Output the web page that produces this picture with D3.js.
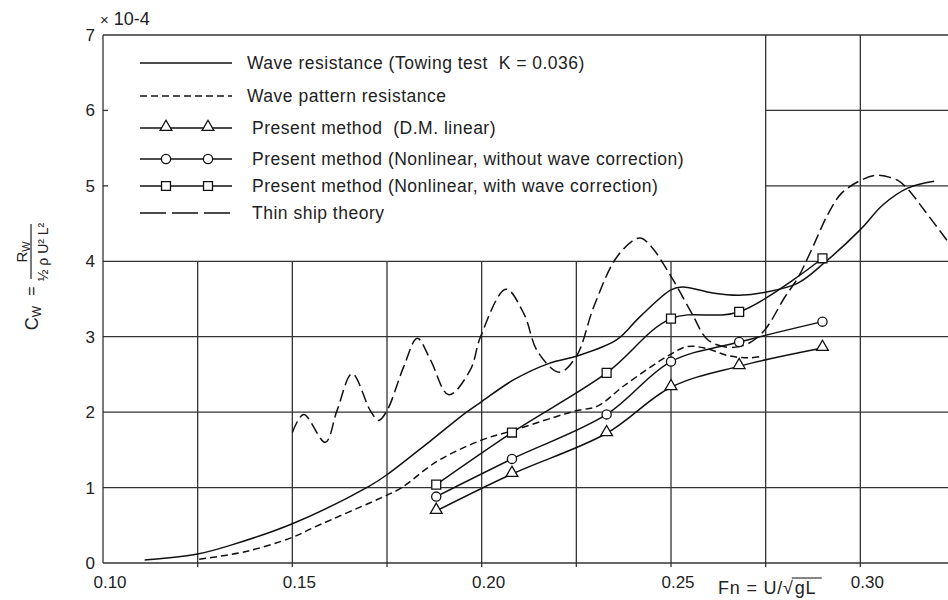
<!DOCTYPE html>
<html>
<head>
<meta charset="utf-8">
<script src="https://cdn.jsdelivr.net/npm/d3@7"></script>
<style>
  body { margin: 0; background: #fff; }
  svg { display: block; font-family: "Liberation Sans", Arial, sans-serif; }
  text { white-space: pre; }
</style>
</head>
<body>
<svg id="chart" width="948" height="600"></svg>
<script>
// Data (Fn, Cw x 10^-4)
const fnTow = [0.111, 0.125, 0.134, 0.150, 0.170, 0.175, 0.1865, 0.196, 0.200, 0.2085, 0.218, 0.225, 0.2357, 0.2417, 0.250, 0.253, 0.261, 0.268, 0.275, 0.2835, 0.2905, 0.300, 0.306, 0.3125, 0.3195];
const cwTow = [0.04, 0.12, 0.24, 0.52, 1.01, 1.17, 1.62, 2.00, 2.14, 2.43, 2.65, 2.74, 2.96, 3.26, 3.62, 3.66, 3.58, 3.55, 3.59, 3.71, 3.98, 4.42, 4.75, 4.97, 5.06];

const fnWp = [0.1254, 0.1375, 0.150, 0.1556, 0.175, 0.1786, 0.1883, 0.200, 0.2085, 0.219, 0.225, 0.2306, 0.2376, 0.250, 0.2544, 0.2597, 0.265, 0.2703, 0.274];
const cwWp = [0.05, 0.15, 0.34, 0.47, 0.90, 0.99, 1.35, 1.63, 1.76, 1.93, 2.02, 2.08, 2.35, 2.77, 2.87, 2.84, 2.75, 2.72, 2.74];

const fnTs = [0.150, 0.153, 0.1587, 0.1618, 0.1658, 0.1706, 0.1728, 0.175, 0.1794, 0.183, 0.1865, 0.1913, 0.197, 0.1997, 0.2064, 0.2112, 0.2147, 0.2205, 0.225, 0.2297, 0.2359, 0.2417, 0.2447, 0.250, 0.2555, 0.2597, 0.265, 0.270, 0.2746, 0.280, 0.2835, 0.287, 0.2915, 0.295, 0.300, 0.3045, 0.310, 0.3125, 0.317, 0.323];
const cwTs = [1.73, 1.97, 1.60, 2.02, 2.51, 2.02, 1.89, 2.02, 2.60, 2.98, 2.69, 2.23, 2.56, 3.00, 3.63, 3.30, 2.81, 2.53, 2.74, 3.41, 4.07, 4.31, 4.20, 3.80, 3.31, 2.96, 2.86, 2.90, 3.08, 3.52, 3.78, 4.14, 4.63, 4.90, 5.07, 5.14, 5.07, 4.96, 4.67, 4.27];

const fnPm = [0.188, 0.208, 0.233, 0.250, 0.268, 0.290];
const cwLinear = [0.69, 1.18, 1.72, 2.33, 2.61, 2.85];
const cwNoCorr = [0.88, 1.38, 1.97, 2.67, 2.93, 3.20];
const cwCorr = [1.04, 1.73, 2.52, 3.24, 3.33, 4.04];

const xTicks = [0.10, 0.15, 0.20, 0.25, 0.30];
const yTicks = [0, 1, 2, 3, 4, 5, 6, 7];
const xGridLow = [0.125, 0.15, 0.175, 0.20, 0.225, 0.25];
const xGridTall = [0.275, 0.30];
const yGridFull = [1, 2, 3, 4];
const yGridRight = [5, 6];

const legendLabels = [
  "Wave resistance (Towing test  K = 0.036)",
  "Wave pattern resistance",
  "Present method  (D.M. linear)",
  "Present method (Nonlinear, without wave correction)",
  "Present method (Nonlinear, with wave correction)",
  "Thin ship theory"
];

// scales
const x = d3.scaleLinear().domain([0.10, 0.325]).range([103, 955]);
const y = d3.scaleLinear().domain([0, 7]).range([563, 35]);

const svg = d3.select("#chart");
const ink = "#222";

// grid
const grid = svg.append("g").attr("stroke", "#333").attr("stroke-width", 1.3);
grid.selectAll(".vl").data(xGridLow).enter().append("line")
  .attr("x1", d => x(d)).attr("x2", d => x(d))
  .attr("y1", y(0) + 4).attr("y2", y(4));
grid.selectAll(".vt").data(xGridTall).enter().append("line")
  .attr("x1", d => x(d)).attr("x2", d => x(d))
  .attr("y1", y(0) + 4).attr("y2", y(7));
grid.selectAll(".hf").data(yGridFull).enter().append("line")
  .attr("x1", x(0.10)).attr("x2", 948)
  .attr("y1", d => y(d)).attr("y2", d => y(d));
grid.selectAll(".hr").data(yGridRight).enter().append("line")
  .attr("x1", x(0.275)).attr("x2", 948)
  .attr("y1", d => y(d)).attr("y2", d => y(d));
// short inner ticks on left axis in the legend area
grid.selectAll(".tk").data(yGridRight).enter().append("line")
  .attr("x1", x(0.10)).attr("x2", x(0.10) + 5)
  .attr("y1", d => y(d)).attr("y2", d => y(d));
// frame
grid.append("line").attr("x1", x(0.10)).attr("x2", x(0.10)).attr("y1", y(0)).attr("y2", y(7));
grid.append("line").attr("x1", x(0.10)).attr("x2", 948).attr("y1", y(0)).attr("y2", y(0));
grid.append("line").attr("x1", x(0.10)).attr("x2", 948).attr("y1", y(7)).attr("y2", y(7));

// tick labels
svg.append("g").selectAll("text").data(xTicks).enter().append("text")
  .attr("x", d => x(d) + 7).attr("y", 588)
  .attr("text-anchor", "middle").attr("font-size", 17).attr("fill", ink)
  .text(d => d.toFixed(2));
svg.append("g").selectAll("text").data(yTicks).enter().append("text")
  .attr("x", 95).attr("y", d => y(d) + 6)
  .attr("text-anchor", "end").attr("font-size", 17).attr("fill", ink)
  .text(d => d);

// exponent label
const ex = svg.append("text").attr("x", 100).attr("y", 25).attr("font-size", 18).attr("fill", ink);
ex.append("tspan").attr("font-size", 15).text("×");
ex.append("tspan").text(" 10-4");

// x axis title
const fnT = svg.append("text").attr("x", 718).attr("y", 594).attr("font-size", 18)
  .attr("letter-spacing", 0.8).attr("fill", ink).text("Fn = U/√");
const fnW = fnT.node().getComputedTextLength();
svg.append("text").attr("x", 718 + fnW + 1).attr("y", 594).attr("font-size", 18)
  .attr("letter-spacing", 0.8).attr("fill", ink).text("gL");
svg.append("line").attr("x1", 718 + fnW - 2).attr("x2", 718 + fnW + 28)
  .attr("y1", 578).attr("y2", 578).attr("stroke", ink).attr("stroke-width", 1.1);

// y axis title (rotated)
function rotText(px, py, size) {
  return svg.append("text").attr("transform", `translate(${px},${py}) rotate(-90)`)
    .attr("text-anchor", "middle").attr("font-size", size).attr("fill", ink);
}
const cw = rotText(38, 318, 18);
cw.append("tspan").text("C");
cw.append("tspan").attr("font-size", 12).attr("dy", 3).text("W");
rotText(37, 291, 16).text("=");
svg.append("line").attr("x1", 31).attr("x2", 31).attr("y1", 224).attr("y2", 279)
  .attr("stroke", ink).attr("stroke-width", 1.2);
const rw = rotText(27, 252, 15);
rw.append("tspan").text("R");
rw.append("tspan").attr("font-size", 11).attr("dy", 3).text("W");
rotText(48, 252, 14).text("½ ρ U² L²");

// curves
const line = d3.line().x(d => x(d[0])).y(d => y(d[1])).curve(d3.curveCatmullRom.alpha(0.5));
const zip = (a, b) => a.map((v, i) => [v, b[i]]);

const curves = svg.append("g").attr("fill", "none").attr("stroke", "#111").attr("stroke-width", 1.5);
curves.append("path").attr("d", line(zip(fnTow, cwTow)));
curves.append("path").attr("d", line(zip(fnWp, cwWp))).attr("stroke-dasharray", "7,4");
curves.append("path").attr("d", line(zip(fnTs, cwTs))).attr("stroke-dasharray", "12,5");
curves.append("path").attr("d", line(zip(fnPm, cwLinear)));
curves.append("path").attr("d", line(zip(fnPm, cwNoCorr)));
curves.append("path").attr("d", line(zip(fnPm, cwCorr)));

// markers
const tri = d3.symbol().type(d3.symbolTriangle).size(60);
const sq = d3.symbol().type(d3.symbolSquare).size(80);
const mk = svg.append("g").attr("fill", "#fff").attr("stroke", "#111").attr("stroke-width", 1.3);
mk.selectAll(".t").data(zip(fnPm, cwLinear)).enter().append("path")
  .attr("d", tri).attr("transform", d => `translate(${x(d[0])},${y(d[1]) - 1})`);
mk.selectAll(".c").data(zip(fnPm, cwNoCorr)).enter().append("circle")
  .attr("cx", d => x(d[0])).attr("cy", d => y(d[1])).attr("r", 4.6);
mk.selectAll(".s").data(zip(fnPm, cwCorr)).enter().append("path")
  .attr("d", sq).attr("transform", d => `translate(${x(d[0])},${y(d[1])})`);

// legend
const legY = [63, 96, 128, 159, 186, 213];
const legDash = [null, "7,4", null, null, null, "26,6"];
const legMarker = [null, null, "t", "c", "s", null];
const leg = svg.append("g");
legendLabels.forEach((lab, i) => {
  leg.append("line").attr("x1", 140).attr("x2", 232).attr("y1", legY[i]).attr("y2", legY[i])
    .attr("stroke", "#111").attr("stroke-width", 1.5)
    .attr("stroke-dasharray", legDash[i]);
  [166, 208].forEach(mx => {
    if (legMarker[i] === "t") {
      leg.append("path").attr("d", tri).attr("transform", `translate(${mx},${legY[i] - 1})`)
        .attr("fill", "#fff").attr("stroke", "#111").attr("stroke-width", 1.3);
    } else if (legMarker[i] === "c") {
      leg.append("circle").attr("cx", mx).attr("cy", legY[i]).attr("r", 4.6)
        .attr("fill", "#fff").attr("stroke", "#111").attr("stroke-width", 1.3);
    } else if (legMarker[i] === "s") {
      leg.append("path").attr("d", sq).attr("transform", `translate(${mx},${legY[i]})`)
        .attr("fill", "#fff").attr("stroke", "#111").attr("stroke-width", 1.3);
    }
  });
  leg.append("text").attr("x", i >= 2 ? 252 : 247).attr("y", legY[i] + 6)
    .attr("font-size", 17.5).attr("letter-spacing", 0.5).attr("fill", ink).text(lab);
});
</script>
</body>
</html>
